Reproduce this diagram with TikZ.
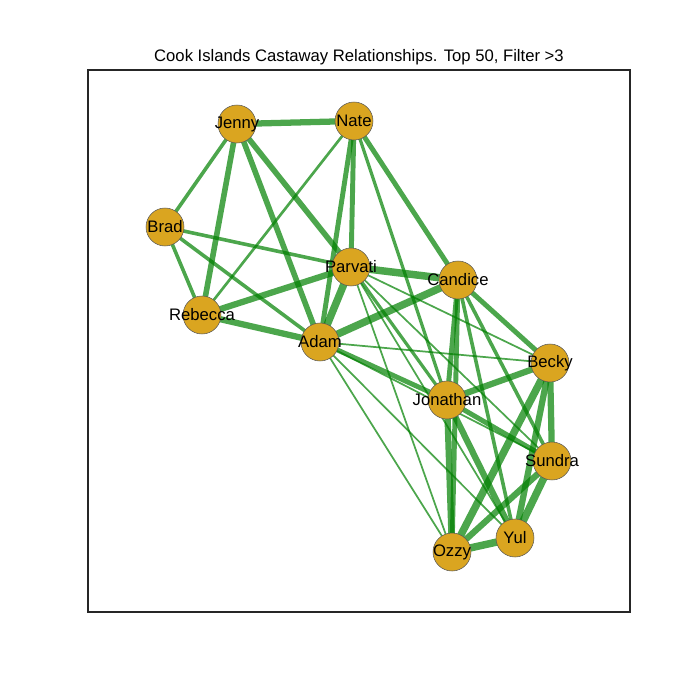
\documentclass[tikz,border=0pt]{standalone}
\usepackage{fontspec}
\setmainfont{Liberation Sans}
\usetikzlibrary{backgrounds}
\definecolor{goldenrod}{HTML}{DAA520}
\tikzstyle{castaway}=[circle, fill=goldenrod, draw=black!65, line width=0.4pt, minimum size=28.5pt, inner sep=0pt, label={[font=\fontsize{12.5}{14}\selectfont, inner sep=0pt]center:#1}]
\tikzstyle{tie}=[draw=green!50!black, draw opacity=0.7]

\begin{document}
\begin{tikzpicture}[x=0.75pt, y=-0.75pt]
          \useasboundingbox (0,0) rectangle (700,700);
          \draw[black!85, line width=1.3pt] (88,70) rectangle (630,612);
          \node[font=\fontsize{12.5}{14}\selectfont] (title) at (359,57) {Cook Islands Castaway Relationships. Top 50, Filter >3};

          \node[castaway=Jenny] (jenny) at (237,124) {};
          \node[castaway=Nate] (nate) at (354,121) {};
          \node[castaway=Brad] (brad) at (165,227) {};
          \node[castaway=Parvati] (parvati) at (351,267) {};
          \node[castaway=Candice] (candice) at (458,280) {};
          \node[castaway=Rebecca] (rebecca) at (202,315) {};
          \node[castaway=Adam] (adam) at (320,342) {};
          \node[castaway=Becky] (becky) at (550,363) {};
          \node[castaway=Jonathan] (jonathan) at (447,400) {};
          \node[castaway=Sundra] (sundra) at (552,461) {};
          \node[castaway=Yul] (yul) at (515,538) {};
          \node[castaway=Ozzy] (ozzy) at (452,552) {};

          \begin{scope}[on background layer]
            \foreach \a/\b/\w in {
                jenny/nate/4.7, jenny/brad/2.7, jenny/rebecca/4.2, jenny/adam/4.2,
                jenny/parvati/4.2, nate/rebecca/2, nate/adam/3.7, nate/parvati/3.7,
                nate/jonathan/2.4, nate/candice/3.7, brad/parvati/2.7, brad/rebecca/2.7,
                brad/adam/2.7, rebecca/parvati/4.7, rebecca/adam/4.7, parvati/adam/5.6,
                parvati/candice/5.6, adam/candice/5.6, parvati/becky/1.3,
                parvati/jonathan/2.4, parvati/sundra/1.3, parvati/yul/1.3,
                parvati/ozzy/1.3, adam/becky/1.3, adam/jonathan/3.7, adam/sundra/1.3,
                adam/yul/1.3, adam/ozzy/1.3, candice/becky/3.7, candice/jonathan/3.7,
                candice/ozzy/3.7, candice/sundra/2.7, candice/yul/2.7,
                jonathan/becky/4.7, jonathan/sundra/3.7, jonathan/yul/4.7,
                jonathan/ozzy/4.7, becky/sundra/4.7, becky/yul/4.7, becky/ozzy/5.6,
                sundra/yul/5.6, sundra/ozzy/4.7, yul/ozzy/5.6}
              \draw[tie, line width=\w pt] (\a.center) -- (\b.center);
          \end{scope}
        \end{tikzpicture}
\end{document}
